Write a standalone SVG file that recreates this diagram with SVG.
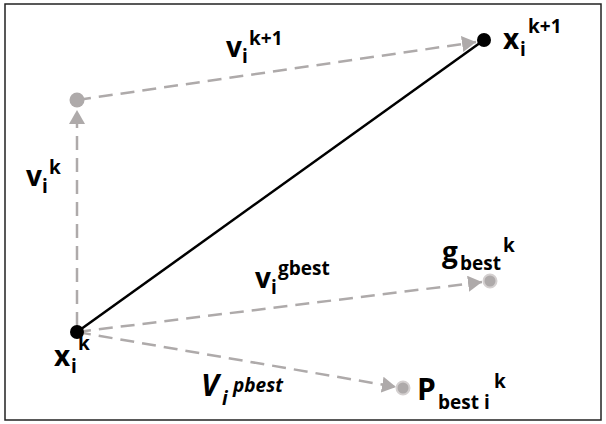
<svg xmlns="http://www.w3.org/2000/svg" width="606" height="424" viewBox="0 0 606 424">
<style>
.dash{stroke:#aeaaaa;stroke-width:2.5;stroke-dasharray:14 8;fill:none}
.solid{stroke:#000;stroke-width:2.5;fill:none}
.t{font-family:"Open Sans","Noto Sans",sans-serif;font-weight:700;fill:#000}
.m{font-size:28px}
.s{font-size:19px}
.it{font-style:italic}
.gdot{fill:#aeaaaa}
.gdot2{fill:#aeaaaa;stroke:#d4d0d0;stroke-width:2}
.bdot{fill:#000}
</style>
<defs>
<marker id="ah" viewBox="0 0 14 16" refX="14" refY="8" orient="auto" markerUnits="userSpaceOnUse" markerWidth="14" markerHeight="16">
<path d="M0,0 L14,8 L0,16 z" fill="#aeaaaa"/>
</marker>
</defs>
<rect x="0" y="0" width="606" height="424" fill="#fff"/>
<rect x="5" y="4" width="596" height="416" fill="#fff" stroke="#222" stroke-width="1.5"/>
<g id="connectors">
<line class="dash" x1="77" y1="326" x2="77" y2="110" marker-end="url(#ah)"/>
<line class="dash" x1="77" y1="100" x2="476" y2="42" marker-end="url(#ah)"/>
<line class="dash" x1="77" y1="332" x2="482" y2="282" marker-end="url(#ah)"/>
<line class="dash" x1="77" y1="332" x2="396" y2="387" marker-end="url(#ah)"/>
<line class="solid" x1="77" y1="332" x2="484" y2="40"/>
</g>
<g id="node-vik-end"><circle class="gdot" cx="77" cy="100" r="7.5"/></g>
<g id="node-xik1"><circle class="bdot" cx="484" cy="40" r="7"/>
<text class="t m" x="503" y="49">x</text><text class="t s" x="520" y="56">i</text><text class="t s" x="528" y="33">k+1</text></g>
<g id="node-xik"><circle class="bdot" cx="77" cy="332" r="7"/>
<text class="t m" x="54" y="366">x</text><text class="t s" x="71" y="373">i</text><text class="t s" x="78" y="350">k</text></g>
<g id="node-gbest"><circle class="gdot2" cx="490" cy="281" r="6.5"/>
<text class="t m" x="442" y="262">g</text><text class="t s" x="460" y="270">best</text><text class="t s" x="503" y="252">k</text></g>
<g id="node-pbest"><circle class="gdot2" cx="403" cy="388" r="6.5"/>
<text class="t" style="font-size:30px" x="417" y="400">P</text><text class="t s" x="438" y="409">best i</text><text class="t s" x="494" y="388">k</text></g>
<g id="labels">
<text class="t m" x="226" y="57">v</text><text class="t s" x="242" y="63">i</text><text class="t s" x="249" y="45">k+1</text>
<text class="t m" x="26" y="186">v</text><text class="t s" x="42" y="193">i</text><text class="t s" x="49" y="174">k</text>
<text class="t m" x="255" y="288">v</text><text class="t s" x="271" y="294">i</text><text class="t s" x="278" y="275">gbest</text>
<text class="t it" style="font-size:30px" x="201" y="396">V</text><text class="t s it" x="222" y="405">i</text><text class="t s it" x="233" y="392">pbest</text>
</g>
</svg>
